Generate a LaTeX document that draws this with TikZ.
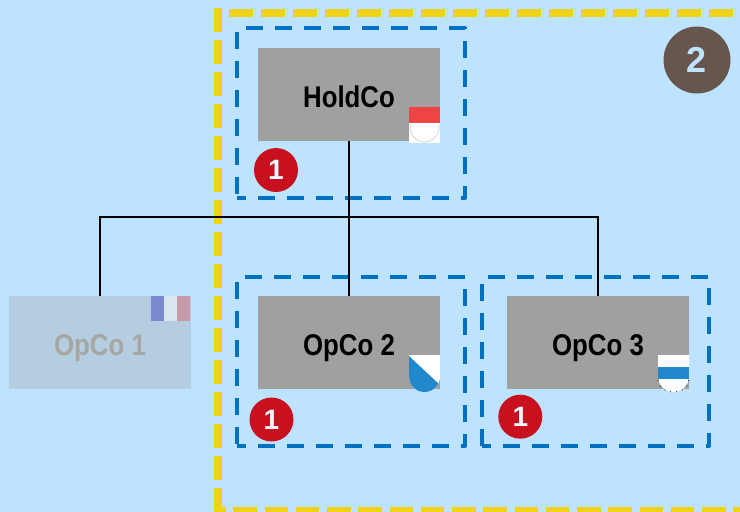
\documentclass[tikz,border=0pt]{standalone}
\usepackage{fontspec}
\setmainfont{Liberation Sans}
\usepackage{xcolor}
\usetikzlibrary{positioning}
\definecolor{skybg}{HTML}{BDE3FF}
\definecolor{boxgray}{HTML}{A0A0A0}
\definecolor{fadedbox}{HTML}{B4CDE0}
\definecolor{fadedtext}{HTML}{A6A6A3}
\definecolor{dashblue}{HTML}{0070C0}
\definecolor{dashyellow}{HTML}{EED318}
\definecolor{badgered}{HTML}{C8101E}
\definecolor{badgebrown}{HTML}{66564E}
\definecolor{flagred}{HTML}{EE4444}
\definecolor{flagblue}{HTML}{2288CC}
\newcommand{\boxlabel}[1]{\raisebox{-13pt}[0pt][0pt]{\scalebox{0.86}[1]{#1}}}
\newcommand{\groupframe}[1]{\draw[group] (#1.south west) -- (#1.south east) -- (#1.north east) -- (#1.north west) -- cycle;}

\begin{document}
\begin{tikzpicture}[x=1pt,y=-1pt,
            entity/.style={rectangle, fill=boxgray, minimum width=182pt, minimum height=93pt, inner sep=0pt, outer sep=0pt, font=\fontsize{30}{30}\selectfont\bfseries, text=black},
            faded/.style={entity, fill=fadedbox, text=fadedtext},
            link/.style={line width=2pt, black},
            groupbox/.style={rectangle, inner sep=0pt, outer sep=0pt},
            group/.style={draw=dashblue, line width=4pt, line join=round, dash pattern=on 17pt off 12pt, dash phase=8.5pt},
            perimeter/.style={draw=dashyellow, line width=8pt, line join=round, dash pattern=on 24pt off 8pt},
            badge/.style={circle, fill=badgered, minimum size=44pt, inner sep=0pt, text=skybg!30!white, font=\fontsize{28}{28}\selectfont\bfseries},
            bigbadge/.style={circle, fill=badgebrown, minimum size=67pt, inner sep=0pt, text=skybg, font=\fontsize{36}{36}\selectfont\bfseries}
        ]
        \useasboundingbox (0,0) rectangle (740,512);
        \fill[skybg] (0,0) rectangle (740,512);

        \coordinate (yellowtop) at (217.5,8);
        \coordinate (yellowbottom) at (217.5,512);
        \coordinate (yellowstart) at (229,12.5);
        \coordinate (yellowend) at (740,12.5);
        \coordinate (yellowfoot) at (217.5,511);
        \coordinate (yellowfootend) at (740,511);
        \draw[perimeter] (yellowtop) -- (yellowbottom);
        \draw[perimeter] (yellowstart) -- (yellowend);
        \draw[perimeter, dash pattern=on 23.5pt off 7.75pt, dash phase=15.5pt] (yellowfoot) -- (yellowfootend);

        \node[groupbox, minimum width=228pt, minimum height=170pt] (groupholdco) at (351,113) {};
        \node[groupbox, minimum width=228pt, minimum height=169pt] (groupopco2) at (351,361.5) {};
        \node[groupbox, minimum width=227pt, minimum height=169pt] (groupopco3) at (595.5,361.5) {};
        \groupframe{groupholdco}
        \groupframe{groupopco2}
        \groupframe{groupopco3}

        \node[entity] (holdco) at (349,94.5) {\boxlabel{HoldCo}};
        \node[faded] (opco1) at (100,342.5) {\boxlabel{OpCo 1}};
        \node[entity] (opco2) at (349,342.5) {\boxlabel{OpCo 2}};
        \node[entity] (opco3) at (598,342.5) {\boxlabel{OpCo 3}};

        \coordinate (bus) at (349,217);
        \draw[link] (holdco.south) -- (opco2.north);
        \draw[link] (bus) -| (opco1.north);
        \draw[link] (bus) -| (opco3.north);

        % flags
        \fill[white] (409,107) rectangle (440,143);
        \fill[flagred] (409,107) rectangle (440,123);
        \draw[gray!30, line width=1pt] (410,124) -- (410,127) arc[start angle=180, end angle=0, x radius=14.5pt, y radius=-15pt] -- (439,124);

        \fill[white] (409,355) -- (440,355) -- (440,376.5) arc[start angle=0, end angle=180, x radius=15.5pt, y radius=-15.5pt] -- cycle;
        \begin{scope}
            \clip (409,355) -- (440,355) -- (440,376.5) arc[start angle=0, end angle=180, x radius=15.5pt, y radius=-15.5pt] -- cycle;
            \fill[flagblue] (409,356) -- (440,385) -- (440,392) -- (409,392) -- cycle;
        \end{scope}

        \fill[white] (658,355) -- (689,355) -- (689,376.5) arc[start angle=0, end angle=180, x radius=15.5pt, y radius=-15.5pt] -- cycle;
        \fill[flagblue] (658,367) rectangle (689,379);
        \draw[black, line width=0.8pt, dash pattern=on 1pt off 5pt] (689,380) arc[start angle=0, end angle=180, x radius=15.5pt, y radius=-12pt];

        \fill[blue!25!fadedbox!90!black] (151,296) rectangle (164,321);
        \fill[white!50!fadedbox] (164,296) rectangle (177,321);
        \fill[red!25!fadedbox] (177,296) rectangle (190,321);

        % badges
        \node[badge] (badgeholdco) at (276,170) {1};
        \node[badge] (badgeopco2) at (271.5,419.5) {1};
        \node[badge] (badgeopco3) at (520.3,416.7) {1};
        \node[bigbadge] (badgescope) at (697,60) {2};

    \end{tikzpicture}
\end{document}
